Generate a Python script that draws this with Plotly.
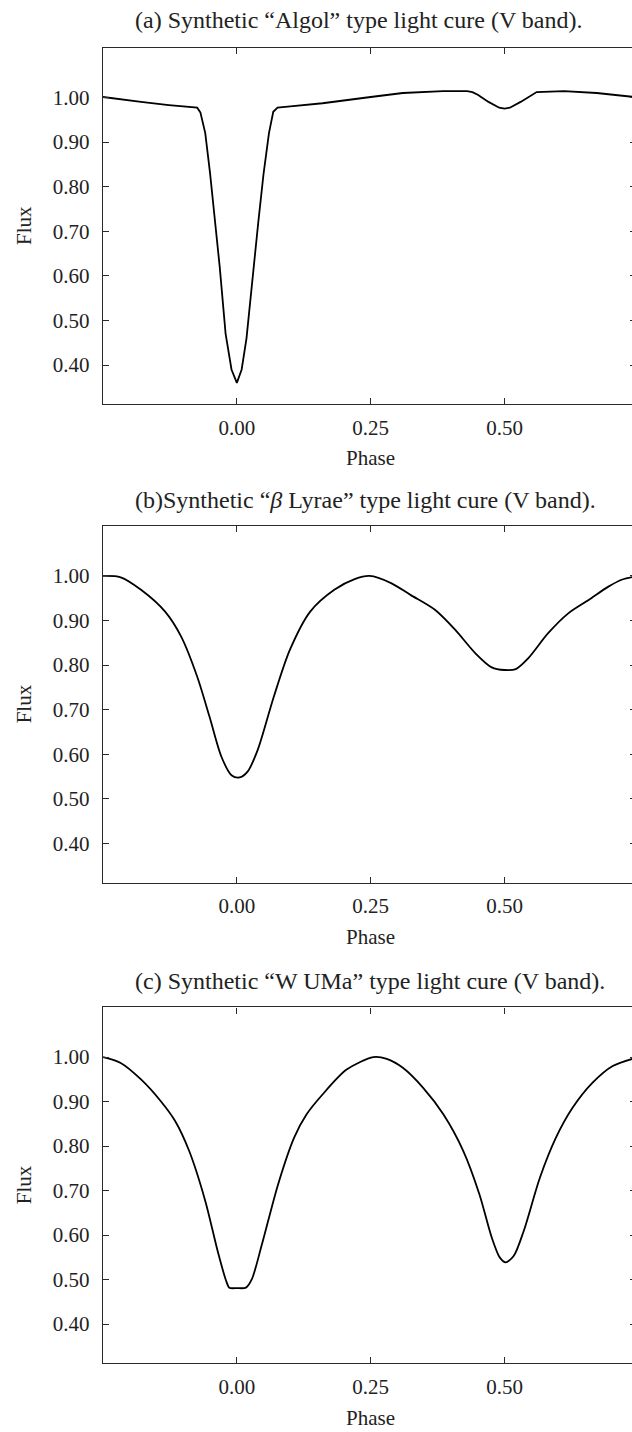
import plotly.graph_objects as go

# ---------------- data ----------------
phase_a = [-0.25, -0.215, -0.179, -0.127, -0.074, -0.068, -0.059, -0.050, -0.040,
           -0.032, -0.021, -0.010, 0.000, 0.009, 0.018, 0.032, 0.040, 0.050, 0.060,
           0.068, 0.076, 0.10, 0.16, 0.25, 0.31, 0.385, 0.43, 0.44, 0.45, 0.47,
           0.49, 0.50, 0.51, 0.53, 0.55, 0.56, 0.611, 0.672, 0.75]
flux_a = [1.001, 0.995, 0.990, 0.983, 0.977, 0.966, 0.920, 0.830, 0.720,
          0.620, 0.470, 0.390, 0.360, 0.390, 0.460, 0.630, 0.720, 0.830, 0.920,
          0.968, 0.977, 0.980, 0.987, 1.001, 1.010, 1.014, 1.014, 1.012, 1.006, 0.990,
          0.977, 0.975, 0.977, 0.990, 1.006, 1.012, 1.014, 1.010, 1.000]

phase_b = [-0.25, -0.217, -0.179, -0.134, -0.104, -0.074, -0.051, -0.029, -0.010,
           0.005, 0.020, 0.039, 0.069, 0.099, 0.137, 0.182, 0.22, 0.248, 0.288,
           0.325, 0.370, 0.408, 0.446, 0.476, 0.50, 0.521, 0.544, 0.581, 0.619,
           0.657, 0.694, 0.72, 0.75]
flux_b = [1.000, 0.997, 0.969, 0.920, 0.864, 0.774, 0.684, 0.595, 0.553,
          0.548, 0.561, 0.610, 0.729, 0.834, 0.920, 0.969, 0.993, 1.000, 0.984,
          0.957, 0.924, 0.879, 0.826, 0.795, 0.789, 0.791, 0.815, 0.871, 0.916,
          0.946, 0.976, 0.992, 1.000]

phase_c = [-0.25, -0.217, -0.179, -0.142, -0.115, -0.089, -0.059, -0.036, -0.021,
           -0.014, 0.000, 0.017, 0.028, 0.047, 0.077, 0.107, 0.130, 0.160, 0.205,
           0.255, 0.280, 0.310, 0.348, 0.386, 0.423, 0.453, 0.476, 0.491, 0.502,
           0.517, 0.536, 0.566, 0.596, 0.627, 0.664, 0.702, 0.75]
flux_c = [1.000, 0.987, 0.950, 0.901, 0.856, 0.789, 0.677, 0.565, 0.501,
          0.482, 0.481, 0.482, 0.501, 0.580, 0.714, 0.819, 0.871, 0.916, 0.972,
          1.000, 0.996, 0.976, 0.931, 0.871, 0.789, 0.692, 0.595, 0.550, 0.539,
          0.553, 0.610, 0.729, 0.819, 0.886, 0.942, 0.980, 1.000]

titles = ["(a) Synthetic \u201cAlgol\u201d type light cure (V band).",
          "(b)Synthetic \u201c<i>\u03b2</i> Lyrae\u201d type light cure (V band).",
          "(c) Synthetic \u201cW UMa\u201d type light cure (V band)."]
x_tickvals = [0.0, 0.25, 0.50]
y_tickvals = [0.40, 0.50, 0.60, 0.70, 0.80, 0.90, 1.00]
x_label = "Phase"
y_label = "Flux"

# ---------------- layout constants ----------------
W, H = 632, 1432
ML = 103
FONT = "Liberation Serif, Times New Roman, serif"
AX = "#2a2a2a"
panels_px = [(47.5, 404.3), (526.0, 882.7), (1007.3, 1363.3)]  # (top, bottom) in px
title_px = [20.0, 500.0, 981.0]
phase_lbl_px = [458.0, 937.0, 1418.0]
x_range = [-0.25, -0.25 + (W - ML) / 535.4]
y_range = [0.312, 1.112]

series = [(phase_a, flux_a, "linear"), (phase_b, flux_b, "spline"), (phase_c, flux_c, "spline")]

fig = go.Figure()
annotations = []
for i, ((ph, fl, shape), (top, bot)) in enumerate(zip(series, panels_px)):
    n = i + 1
    xa = "x" if n == 1 else f"x{n}"
    ya = "y" if n == 1 else f"y{n}"
    line = dict(color="black", width=1.8, shape=shape)
    if shape == "spline":
        line["smoothing"] = 0.8
    fig.add_trace(go.Scatter(x=ph, y=fl, mode="lines", line=line,
                             xaxis=xa, yaxis=ya, showlegend=False, hoverinfo="skip"))
    # right-side overlay axis (tick stubs only)
    fig.add_trace(go.Scatter(x=[], y=[], mode="lines", xaxis=xa, yaxis=f"y{n + 3}",
                             showlegend=False, hoverinfo="skip"))
    dom = [1 - bot / H, 1 - top / H]
    xkey = "xaxis" if n == 1 else f"xaxis{n}"
    ykey = "yaxis" if n == 1 else f"yaxis{n}"
    fig.layout[xkey] = dict(
        domain=[0, 1], anchor=ya, range=x_range, tickvals=x_tickvals, tickformat=".2f",
        ticks="inside", ticklen=6, tickwidth=1.2, tickcolor=AX,
        showline=True, linecolor=AX, linewidth=1.4, mirror="ticks",
        showgrid=False, zeroline=False, ticklabelstandoff=4,
        tickfont=dict(family=FONT, size=21, color="#222"))
    fig.layout[ykey] = dict(
        domain=dom, anchor=xa, range=y_range, tickvals=y_tickvals, tickformat=".2f",
        ticks="inside", ticklen=6, tickwidth=1.2, tickcolor=AX,
        showline=True, linecolor=AX, linewidth=1.4, mirror=False,
        showgrid=False, zeroline=False, ticklabelstandoff=8,
        tickfont=dict(family=FONT, size=21, color="#222"))
    fig.layout[f"yaxis{n + 3}"] = dict(
        overlaying=ya, side="right", anchor=xa, range=y_range, tickvals=y_tickvals,
        ticks="inside", ticklen=2, tickwidth=1.2, tickcolor=AX, showticklabels=False,
        showline=False, showgrid=False, zeroline=False)

    annotations.append(dict(text=titles[i], xref="paper", yref="paper",
                            x=(133 - ML) / (W - ML), y=1 - title_px[i] / H,
                            xanchor="left", yanchor="middle", showarrow=False,
                            font=dict(family=FONT, size=24, color="#222")))
    annotations.append(dict(text=x_label, xref="paper", yref="paper",
                            x=(237 + 133.85 - ML) / (W - ML), y=1 - phase_lbl_px[i] / H,
                            xanchor="center", yanchor="middle", showarrow=False,
                            font=dict(family=FONT, size=21, color="#222")))
    annotations.append(dict(text=y_label, xref="paper", yref="paper",
                            x=(24 - ML) / (W - ML), y=1 - (top + bot) / 2 / H,
                            xanchor="center", yanchor="middle", showarrow=False,
                            textangle=-90,
                            font=dict(family=FONT, size=21, color="#222")))

fig.update_layout(width=W, height=H, margin=dict(l=ML, r=0, t=0, b=0),
                  paper_bgcolor="white", plot_bgcolor="white",
                  annotations=annotations, showlegend=False)

fig.write_html("out.html", config={"displayModeBar": False})
